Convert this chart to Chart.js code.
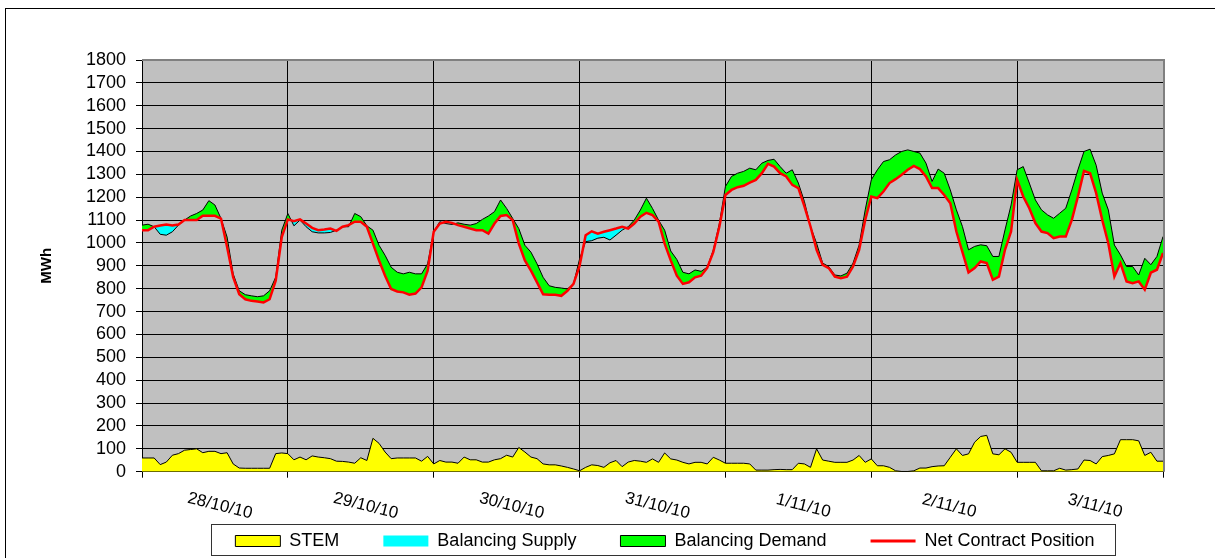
<!DOCTYPE html>
<html>
<head>
<meta charset="utf-8">
<script src="https://cdn.jsdelivr.net/npm/chart.js@4.4.0/dist/chart.umd.min.js"></script>
<style>
  html, body { margin: 0; padding: 0; background: #fff; }
  #wrap { width: 1215px; height: 558px; }
</style>
</head>
<body>
<div id="wrap"><canvas id="chart" width="1215" height="558"></canvas></div>
<script>
// one value per hour, 28/10/10 00:00 .. 4/11/10 00:00
const dayLabels = ["28/10/10", "29/10/10", "30/10/10", "31/10/10", "1/11/10", "2/11/10", "3/11/10"];

const stem = [
  60,60,60,31,42,72,79,94,97,100,83,89,89,79,83,34,16,15,15,15,15,15,79,82,
  79,52,64,52,69,64,61,57,46,45,42,37,61,49,146,124,86,57,60,60,60,60,46,67,
  34,49,42,42,37,64,52,52,42,42,52,57,72,64,106,86,64,57,34,30,30,25,19,12,
  4,19,30,27,19,39,49,22,42,49,46,41,56,41,82,56,51,41,34,41,41,34,63,51,
  37,37,37,37,34,7,7,7,9,10,9,9,37,34,19,100,51,46,41,41,41,51,71,41,
  56,26,26,19,4,1,1,4,16,16,22,25,26,63,100,71,78,129,154,159,78,74,100,85,
  41,41,41,41,4,4,4,15,7,9,12,51,49,34,66,71,78,140,140,140,135,71,85,46,
  46
];

// net contract + balancing (black outline)
const balanced = [
  1078,1082,1071,1038,1034,1049,1078,1100,1118,1129,1144,1185,1166,1107,1026,865,791,774,769,765,769,791,850,1056,
  1129,1075,1100,1071,1049,1044,1044,1046,1056,1071,1071,1129,1115,1075,1056,990,946,894,872,865,872,865,865,909,
  1049,1093,1085,1081,1088,1082,1078,1085,1103,1118,1137,1188,1151,1107,1063,990,960,909,850,813,806,803,799,821,
  930,1006,1010,1021,1025,1013,1034,1056,1071,1100,1144,1196,1151,1100,1056,965,928,872,865,882,876,894,969,1085,
  1247,1291,1305,1313,1327,1320,1349,1361,1366,1334,1305,1320,1262,1181,1072,999,912,897,860,856,868,912,991,1145,
  1276,1320,1356,1364,1385,1400,1407,1400,1393,1349,1269,1323,1305,1232,1145,1072,970,985,992,988,941,941,1057,1166,
  1320,1334,1262,1188,1145,1123,1108,1130,1152,1232,1320,1400,1410,1340,1218,1145,991,948,897,897,860,933,905,941,
  1028
];

const netContract = [
  1056,1056,1071,1076,1081,1076,1081,1100,1100,1100,1119,1119,1119,1107,982,850,776,754,747,744,740,754,835,1026,
  1103,1095,1103,1085,1066,1056,1059,1063,1053,1071,1078,1093,1093,1071,997,924,857,799,788,784,774,779,806,879,
  1049,1085,1093,1088,1078,1071,1063,1056,1056,1041,1085,1118,1122,1100,997,924,879,828,776,774,774,769,791,821,
  900,1034,1051,1041,1049,1056,1063,1071,1063,1085,1115,1132,1122,1093,997,924,857,821,828,850,857,891,960,1071,
  1210,1232,1244,1250,1264,1276,1305,1346,1334,1305,1291,1254,1240,1160,1072,970,904,890,853,846,853,897,970,1101,
  1203,1196,1225,1262,1279,1298,1320,1337,1323,1291,1240,1240,1210,1174,1050,960,871,890,919,912,839,853,970,1050,
  1276,1203,1152,1087,1050,1043,1021,1028,1028,1101,1203,1315,1305,1218,1101,999,853,912,832,824,832,796,870,883,
  956
];

const legendNames = ["STEM", "Balancing Supply", "Balancing Demand", "Net Contract Position"];
const legendFill = ["#ffff00", "#00ffff", "#00ff00", "#ff0000"];

const FONT = 'Arial, "Liberation Sans", sans-serif';
Chart.defaults.font.family = FONT;
Chart.defaults.color = "#000";

const pts = arr => arr.map((v, i) => ({ x: i, y: v }));

const decor = {
  id: "decor",
  beforeDraw(chart) {
    const { ctx, chartArea: a } = chart;
    ctx.save();
    ctx.fillStyle = "#fff";
    ctx.fillRect(0, 0, chart.width, chart.height);
    ctx.fillStyle = "#c0c0c0";
    ctx.fillRect(a.left, a.top, a.right - a.left, a.bottom - a.top);
    ctx.restore();
  },
  afterLayout(chart) {
    // excel puts the legend a bit right of centre
    const lg = chart.legend;
    const dx = 665 - (lg.left + lg.right) / 2;
    lg.left += dx;
    lg.right += dx;
  },
  afterDraw(chart) {
    const { ctx, chartArea: a, scales: { x } } = chart;
    ctx.save();
    // plot frame top/right
    ctx.strokeStyle = "#808080";
    ctx.lineWidth = 2;
    ctx.beginPath();
    ctx.moveTo(a.left, a.top);
    ctx.lineTo(a.right + 1, a.top);
    ctx.lineTo(a.right + 1, a.bottom);
    ctx.stroke();

    // slanted day labels
    ctx.fillStyle = "#000";
    ctx.font = "17px " + FONT;
    ctx.textAlign = "center";
    ctx.textBaseline = "middle";
    dayLabels.forEach((t, i) => {
      const px = x.getPixelForValue(i * 24 + 12) + 5;
      ctx.save();
      ctx.translate(px, 506);
      ctx.rotate(0.245);
      ctx.fillText(t, 0, 0);
      ctx.restore();
    });

    // legend frame
    const lg = chart.legend;
    const pad = lg.options.labels.padding;
    const span = lg.lineWidths[0] - pad;
    const sx = (lg.left + pad + lg.right - lg.lineWidths[0]) / 2;
    ctx.strokeStyle = "#333";
    ctx.lineWidth = 1;
    ctx.strokeRect(Math.round(sx - 24) + 0.5, Math.round(lg.top + pad - 8) + 0.5,
      Math.round(span + 45), 31);

    // outer chart border
    ctx.strokeStyle = "#000";
    ctx.strokeRect(5.5, 8.5, 1300, 700);
    ctx.restore();
  }
};

new Chart(document.getElementById("chart"), {
  type: "line",
  data: {
    datasets: [
      {
        label: "Net Contract Position",
        data: pts(netContract),
        borderColor: "#ff0000",
        borderWidth: 2.5,
        pointRadius: 0,
        tension: 0,
        fill: false,
      },
      {
        label: "Balancing",
        data: pts(balanced),
        borderColor: "#000",
        borderWidth: 1,
        pointRadius: 0,
        tension: 0,
        fill: { target: 0, above: "#00ff00", below: "#00ffff" },
      },
      {
        label: "STEM",
        data: pts(stem),
        borderColor: "#000",
        borderWidth: 1,
        backgroundColor: "#ffff00",
        pointRadius: 0,
        tension: 0,
        fill: "origin",
      },
    ],
  },
  options: {
    responsive: false,
    animation: false,
    devicePixelRatio: 1,
    layout: { padding: { left: 0, top: 60, right: 52, bottom: -2 } },
    plugins: {
      tooltip: { enabled: false },
      legend: {
        position: "bottom",
        labels: {
          usePointStyle: true,
          pointStyleWidth: 45,
          boxHeight: 11,
          padding: 44,
          color: "#000",
          font: { size: 18 },
          generateLabels: () => legendNames.map((t, i) => ({
            text: t,
            fillStyle: legendFill[i],
            strokeStyle: i === 3 ? "#ff0000" : "#000",
            lineWidth: i === 1 ? 0 : (i === 3 ? 3 : 1),
            pointStyle: i === 3 ? "line" : "rect",
            hidden: false,
            datasetIndex: i,
          })),
        },
      },
    },
    scales: {
      x: {
        type: "linear",
        min: 0,
        max: 168,
        ticks: { stepSize: 24, display: false },
        grid: { color: "#000", lineWidth: 1, tickLength: 6 },
        border: { color: "#000", width: 1 },
        afterFit: s => { s.height = 16.3; },
      },
      y: {
        min: 0,
        max: 1800,
        ticks: {
          stepSize: 100,
          autoSkip: false,
          padding: 10,
          font: { size: 18, lineHeight: 1 },
          color: "#000",
          callback: v => String(v),
        },
        grid: { color: "#000", lineWidth: 1, tickLength: 6 },
        border: { color: "#000", width: 1 },
        title: {
          display: true,
          text: "MWh",
          font: { size: 15, weight: "bold" },
          padding: { top: 38, bottom: 0 },
        },
        afterFit: s => { s.width = 142; },
      },
    },
  },
  plugins: [decor],
});
</script>
</body>
</html>
